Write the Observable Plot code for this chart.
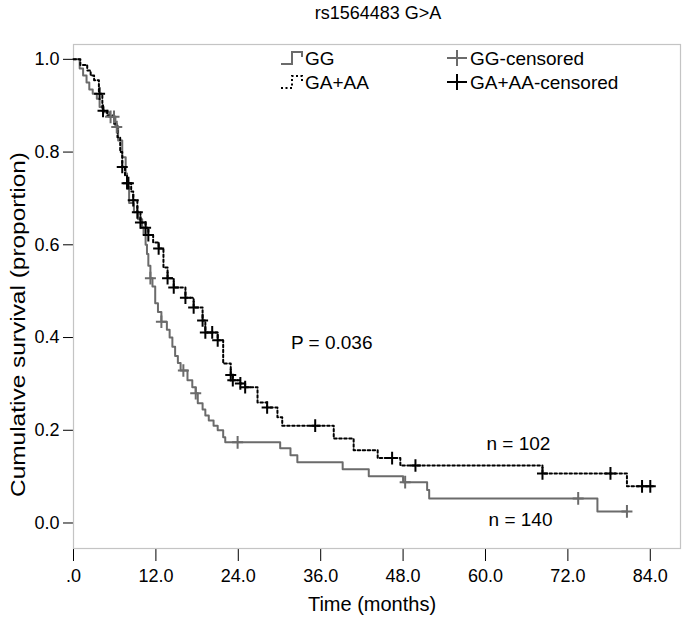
<!DOCTYPE html>
<html>
<head>
<meta charset="utf-8">
<script src="https://cdn.jsdelivr.net/npm/d3@7"></script>
<script src="https://cdn.jsdelivr.net/npm/@observablehq/plot@0.6"></script>
<style>
  html, body { margin: 0; padding: 0; background: #fff; }
  #wrap { position: relative; width: 688px; height: 625px; background: #fff;
          font-family: "Liberation Sans", Arial, sans-serif; color: #000; }
  #title { position: absolute; left: 0; top: 2px; width: 756px; text-align: center;
           font-size: 18px; line-height: 22px; }
  #chart { position: absolute; left: 0; top: 0; }
  #legend { position: absolute; left: 0; top: 0; pointer-events: none; }
</style>
</head>
<body>
<div id="wrap">
  <div id="chart"></div>
  <div id="title">rs1564483 G&gt;A</div>
  <svg id="legend" width="688" height="625"></svg>
</div>
<script>
// ---- axis ticks ----
const xTicks = [0, 12, 24, 36, 48, 60, 72, 84];
const xTickLabels = [".0", "12.0", "24.0", "36.0", "48.0", "60.0", "72.0", "84.0"];
const yTicks = [0, 0.2, 0.4, 0.6, 0.8, 1.0];
const yTickLabels = ["0.0", "0.2", "0.4", "0.6", "0.8", "1.0"];

// ---- GG (n = 140): Kaplan-Meier steps (time in months, survival after step) ----
const ggTime = [0, 0.9, 1.4, 1.9, 2.3, 2.8, 3.4, 3.8, 4.4, 5.2, 6.1, 6.5, 7.1, 7.6, 7.8, 8.1, 8.8, 9.4,
  10.0, 10.2, 10.5, 10.7, 10.9, 11.2, 11.5, 11.9, 12.3, 12.8, 13.6, 14.0, 14.4, 14.8, 15.2, 15.6,
  16.6, 17.3, 17.8, 18.1, 18.8, 19.2, 19.7, 20.4, 21.0, 21.8, 22.1, 30.1, 31.6, 32.6, 39.2, 43.0,
  48.0, 51.5, 51.8, 76.3, 80.6];
const ggSurv = [1, 0.98, 0.965, 0.95, 0.935, 0.926, 0.915, 0.897, 0.886, 0.876, 0.854, 0.825, 0.789,
  0.754, 0.725, 0.69, 0.67, 0.655, 0.638, 0.621, 0.60, 0.58, 0.555, 0.528, 0.51, 0.474, 0.455, 0.434,
  0.417, 0.40, 0.38, 0.36, 0.345, 0.329, 0.308, 0.293, 0.28, 0.258, 0.245, 0.232, 0.221, 0.21, 0.2,
  0.185, 0.174, 0.161, 0.146, 0.131, 0.116, 0.101, 0.088, 0.071, 0.053, 0.025, 0.025];
const ggCensTime = [5.4, 5.9, 6.3, 11.2, 12.8, 16.0, 17.8, 23.9, 48.3, 73.5, 80.6];
const ggCensSurv = [0.876, 0.876, 0.854, 0.528, 0.434, 0.329, 0.28, 0.174, 0.088, 0.053, 0.025];

// ---- GA+AA (n = 102) ----
const gaTime = [0, 1.0, 2.0, 2.5, 3.0, 3.7, 4.2, 4.9, 5.9, 6.4, 6.8, 7.1, 7.5, 7.8, 8.4, 8.7, 9.3, 9.75,
  10.5, 10.9, 11.6, 12.4, 13.1, 13.7, 14.6, 16.3, 17.5, 18.8, 19.2, 21.0, 21.8, 22.9, 23.2, 24.3, 25.0,
  26.8, 28.2, 29.7, 30.4, 37.9, 40.8, 44.3, 47.6, 68.3, 80.6, 84.4];
const gaSurv = [1, 0.988, 0.976, 0.965, 0.955, 0.926, 0.889, 0.879, 0.861, 0.832, 0.80, 0.768, 0.75,
  0.733, 0.715, 0.696, 0.67, 0.648, 0.637, 0.621, 0.605, 0.592, 0.551, 0.528, 0.508, 0.486, 0.465,
  0.437, 0.411, 0.394, 0.344, 0.319, 0.308, 0.301, 0.293, 0.26, 0.249, 0.228, 0.21, 0.182, 0.157,
  0.14, 0.124, 0.107, 0.079, 0.079];
const gaCensTime = [3.8, 4.3, 7.1, 7.8, 8.0, 8.7, 9.3, 9.75, 10.5, 10.9, 12.4, 13.7, 14.6, 16.3, 17.5,
  18.8, 19.2, 20.2, 21.0, 22.9, 23.2, 24.3, 25.0, 28.2, 35.2, 46.4, 49.8, 68.3, 78.2, 82.8, 84.0];
const gaCensSurv = [0.926, 0.889, 0.768, 0.733, 0.733, 0.696, 0.67, 0.648, 0.637, 0.621, 0.592, 0.528,
  0.508, 0.486, 0.465, 0.437, 0.411, 0.411, 0.394, 0.319, 0.308, 0.301, 0.293, 0.249, 0.21, 0.14,
  0.124, 0.107, 0.107, 0.079, 0.079];

const seriesNames = ["GG", "GA+AA"];
const censorNames = ["GG-censored", "GA+AA-censored"];
const pValueText = "P = 0.036";
const nLabels = ["n = 102", "n = 140"];
const xTitle = "Time (months)";
const yTitle = "Cumulative survival (proportion)";

const gray = "#6b6b6b";
const zip = (ts, ss) => ts.map((t, i) => ({t, s: ss[i]}));
const gg = zip(ggTime, ggSurv), ga = zip(gaTime, gaSurv);
const ggC = zip(ggCensTime, ggCensSurv), gaC = zip(gaCensTime, gaCensSurv);

const plus = {
  draw(ctx, size) {
    const r = Math.sqrt(size / Math.PI);
    ctx.moveTo(-r, 0); ctx.lineTo(r, 0);
    ctx.moveTo(0, -r * 1.15); ctx.lineTo(0, r * 1.15);
  }
};

const chart = Plot.plot({
  width: 688, height: 625,
  marginLeft: 73, marginRight: 8, marginTop: 44, marginBottom: 77,
  style: {fontFamily: '"Liberation Sans", Arial, sans-serif', fontSize: "18px", color: "#000", background: "#fff", overflow: "visible"},
  x: {domain: [0, 88.4], ticks: xTicks, tickFormat: d => xTickLabels[xTicks.indexOf(d)],
      tickSize: 13, tickPadding: 8, label: null, line: true},
  y: {domain: [-0.055, 1.032], ticks: yTicks, tickFormat: d => yTickLabels[yTicks.indexOf(d)],
      tickSize: 10, tickPadding: 4, label: null, line: true},
  marks: [
    Plot.frame({stroke: "#c4c4c4", strokeWidth: 1.2}),
    Plot.line(gg, {x: "t", y: "s", curve: "step-after", stroke: gray, strokeWidth: 2}),
    Plot.line(ga, {x: "t", y: "s", curve: "step-after", stroke: "#000", strokeWidth: 2, strokeDasharray: "2.5,2.5"}),
    Plot.dot(ggC, {x: "t", y: "s", symbol: plus, r: 5.5, stroke: gray, strokeWidth: 2, fill: "none"}),
    Plot.dot(gaC, {x: "t", y: "s", symbol: plus, r: 5.5, stroke: "#000", strokeWidth: 2, fill: "none"}),
    Plot.text([pValueText], {x: 37.6, y: 0.388, text: d => d, fontSize: 19}),
    Plot.text([nLabels[0]], {x: 64.8, y: 0.17, text: d => d, fontSize: 19}),
    Plot.text([nLabels[1]], {x: 65.1, y: 0.006, text: d => d, fontSize: 19}),
    Plot.text([xTitle], {frameAnchor: "bottom", dx: -5, dy: 62, text: d => d, fontSize: 20}),
    Plot.text([yTitle], {frameAnchor: "left", textAnchor: "middle", dx: -55, dy: 28, rotate: -90, text: d => d, fontSize: 21, className: "ytitle"})
  ]
});
document.getElementById("chart").appendChild(chart);
// stretch the y title along its length to match the reference's condensed lettering
d3.select(chart).selectAll("text").filter(function() { return this.textContent === yTitle; })
  .attr("textLength", 345).attr("lengthAdjust", "spacingAndGlyphs");

// ---- legend ----
const lg = d3.select("#legend");
const rows = [58, 82];
lg.append("path").attr("d", `M281,${rows[0]+6} H292 V${rows[0]-6} H302 V${rows[0]-1}`)
  .attr("fill", "none").attr("stroke", gray).attr("stroke-width", 2);
lg.append("path").attr("d", `M281,${rows[1]+6} H292 V${rows[1]-6} H302 V${rows[1]-1}`)
  .attr("fill", "none").attr("stroke", "#000").attr("stroke-width", 2).attr("stroke-dasharray", "2,2.5");
seriesNames.forEach((n, i) => {
  lg.append("text").attr("x", 305).attr("y", rows[i]).attr("dy", "0.36em")
    .attr("font-size", 19).attr("font-family", '"Liberation Sans", Arial, sans-serif').text(n);
});
[gray, "#000"].forEach((c, i) => {
  lg.append("path").attr("d", `M447,${rows[i]} H467 M457,${rows[i]-8} V${rows[i]+8}`)
    .attr("stroke", c).attr("stroke-width", 2);
  lg.append("text").attr("x", 470).attr("y", rows[i]).attr("dy", "0.36em")
    .attr("font-size", 19).attr("font-family", '"Liberation Sans", Arial, sans-serif').text(censorNames[i]);
});
</script>
</body>
</html>
